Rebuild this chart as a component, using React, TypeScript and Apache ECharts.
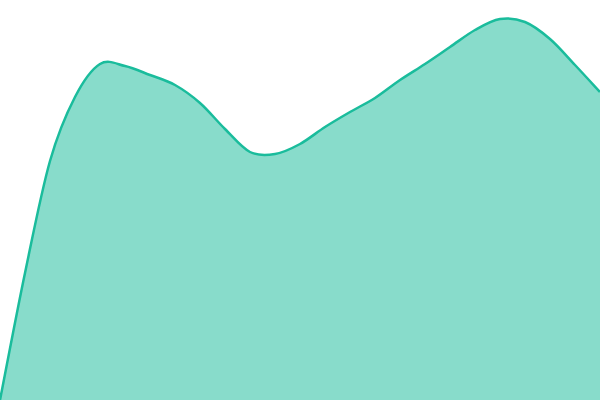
import React from 'react';
import * as echarts from 'echarts';

// Sampled every 25px across the plot
const categories = [
  '0', '1', '2', '3', '4', '5', '6', '7', '8', '9', '10', '11', '12',
  '13', '14', '15', '16', '17', '18', '19', '20', '21', '22', '23', '24',
];
const values = [
  0, 127, 239, 303, 336, 334, 325, 315, 297, 271, 248, 246, 256,
  273, 288, 302, 320, 336, 353, 370, 381, 378, 361, 335, 308,
];

// catmull-rom through the points, as cubic beziers
const smoothPath = (pts: number[][]) => {
  let d = `M${pts[0][0]},${pts[0][1]}`;
  for (let i = 0; i < pts.length - 1; i++) {
    const p0 = pts[Math.max(0, i - 1)];
    const p1 = pts[i];
    const p2 = pts[i + 1];
    const p3 = pts[Math.min(pts.length - 1, i + 2)];
    const c1x = p1[0] + (p2[0] - p0[0]) / 6;
    const c1y = p1[1] + (p2[1] - p0[1]) / 6;
    const c2x = p2[0] - (p3[0] - p1[0]) / 6;
    const c2y = p2[1] - (p3[1] - p1[1]) / 6;
    d += ` C${c1x},${c1y} ${c2x},${c2y} ${p2[0]},${p2[1]}`;
  }
  return d;
};

const App: React.FC = () => {
  const chartRef = React.useRef<HTMLDivElement>(null);

  React.useEffect(() => {
    if (!chartRef.current) return;
    const chart = echarts.init(chartRef.current, undefined, { renderer: 'svg' });
    chart.setOption({
      animation: false,
      grid: { left: 0, right: 0, top: 0, bottom: 0 },
      xAxis: {
        type: 'category',
        data: categories,
        boundaryGap: false,
        show: false,
      },
      yAxis: {
        type: 'value',
        min: 0,
        max: 400,
        show: false,
      },
      series: [
        {
          type: 'custom',
          data: [[0, values[0]]],
          renderItem: (_params: any, api: any) => {
            const pts = values.map((v, i) => api.coord([i, v]));
            const line = smoothPath(pts);
            const last = pts[pts.length - 1];
            const base0 = api.coord([0, 0]);
            const baseN = api.coord([pts.length - 1, 0]);
            const area = `${line} L${last[0]},${baseN[1]} L${base0[0]},${base0[1]} Z`;
            return {
              type: 'group',
              children: [
                {
                  type: 'path',
                  shape: { pathData: area },
                  style: { fill: '#1abc9c', opacity: 0.52 },
                },
                {
                  type: 'path',
                  shape: { pathData: line },
                  style: { fill: null, stroke: '#1abc9c', lineWidth: 2.5 },
                },
              ],
            };
          },
        },
      ],
    });
    return () => {
      chart.dispose();
    };
  }, []);

  return (
    <div
      ref={chartRef}
      style={{ position: 'fixed', left: 0, top: 0, width: '600px', height: '400px' }}
    />
  );
};

export default App;
